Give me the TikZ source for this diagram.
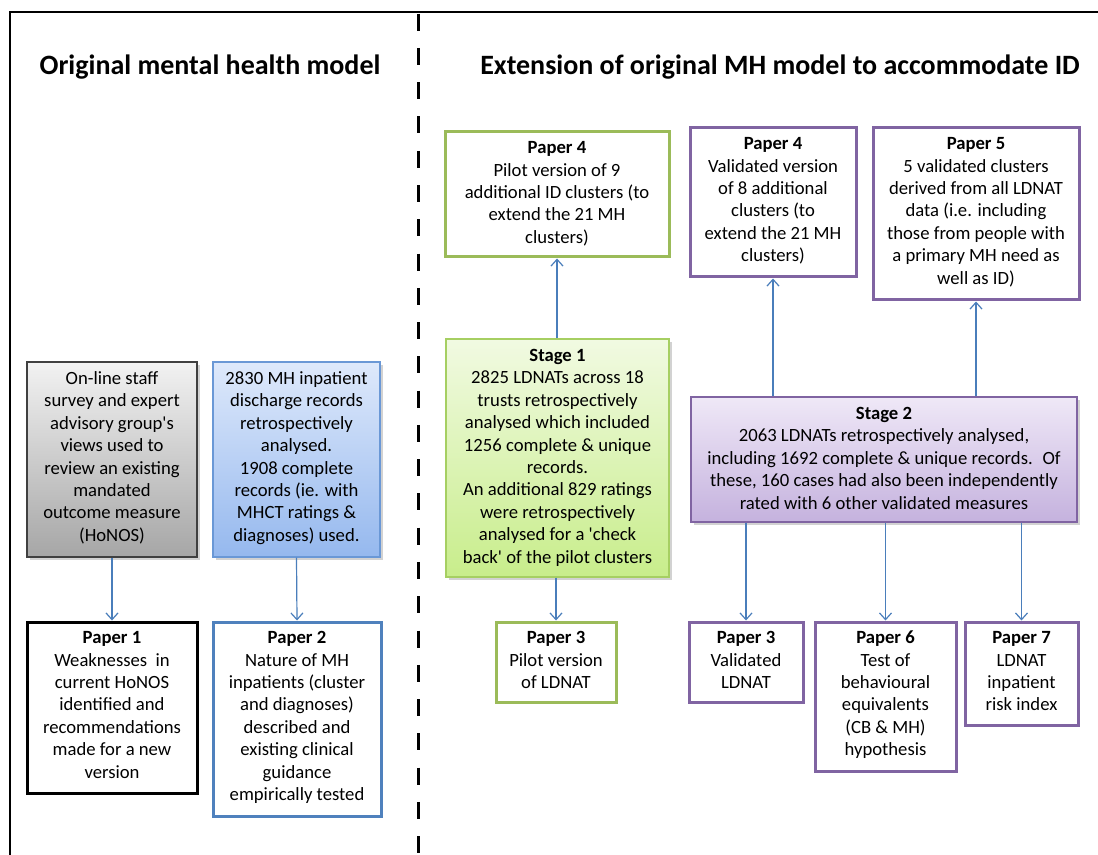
\documentclass[tikz,border=0pt]{standalone}
\usepackage{fontspec}
\setmainfont{Carlito}
\usetikzlibrary{arrows.meta,shadows}
\definecolor{grn}{HTML}{9BBB59}
\definecolor{grnl}{HTML}{A6CF62}
\definecolor{pur}{HTML}{8064A2}
\definecolor{blu}{HTML}{4F81BD}
\definecolor{blul}{HTML}{6A98D6}
\definecolor{arrc}{HTML}{4A7EBB}
\definecolor{gtop}{HTML}{F2F2F2}
\definecolor{gbot}{HTML}{A6A6A6}
\definecolor{btop}{HTML}{DEE9FB}
\definecolor{bbot}{HTML}{95B8EE}
\definecolor{stop}{HTML}{F1FAE2}
\definecolor{sbot}{HTML}{C8ED8B}
\definecolor{ptop}{HTML}{EFE8F7}
\definecolor{pbot}{HTML}{C5B2DE}
\begin{document}
\begin{tikzpicture}[x=0.75pt,y=-0.75pt,
 box/.style={rectangle, inner sep=0pt, line width=2.25pt},
 gbox/.style={rectangle, inner sep=0pt, line width=1.1pt, drop shadow={shadow xshift=2pt, shadow yshift=-2pt, opacity=0.35}},
 txt/.style={anchor=north, inner sep=0pt, align=center, font=\fontsize{14}{16.8}\selectfont},
 arr/.style={draw=arrc, line width=0.9pt, -{Straight Barb[length=5pt,width=9pt]}},
 ttl/.style={anchor=base, inner sep=0pt, font=\fontsize{21}{25}\selectfont\bfseries}]
\useasboundingbox (0,0) rectangle (1098,855);
\fill[white] (0,0) rectangle (1098,855);

% frame and divider
\draw[line width=1.5pt] (10,855) -- (10,12) -- (1098,12);
\draw[line width=2.25pt, dash pattern=on 12.75pt off 12.95pt] (418,13.7) -- (418,855);

% titles
\node[ttl] (tl) at (210,75) {Original mental health model};
\node[ttl] (tr) at (780,75) {Extension of original MH model to accommodate ID};

% left side
\node[gbox, draw=black!75, top color=gtop, bottom color=gbot, minimum width=127.5pt, minimum height=146.25pt] (grey) at (112,459.5) {};
\node[txt] (greyt) at ([yshift=-6.25pt]grey.north) {\rule{0pt}{11pt}On-line staff\\survey and expert\\advisory group\textquotesingle s\\views used to\\review an existing\\mandated\\outcome measure\\(HoNOS)};

\node[gbox, draw=blul, top color=btop, bottom color=bbot, minimum width=125.25pt, minimum height=146.25pt] (blue) at (296.5,459.5) {};
\node[txt] (bluet) at ([yshift=-6.25pt]blue.north) {\rule{0pt}{11pt}2830 MH inpatient\\discharge records\\retrospectively\\analysed.\\1908 complete\\records (ie. with\\MHCT ratings \&\\diagnoses) used.};

\node[box, draw=black, minimum width=127.5pt, minimum height=128.25pt] (p1) at (112,707.5) {};
\node[txt] (p1t) at ([yshift=-6.25pt]p1.north) {\rule{0pt}{11pt}\textbf{Paper 1}\\Weaknesses~ in\\current HoNOS\\identified and\\recommendations\\made for a new\\version};

\node[box, draw=blu, minimum width=126pt, minimum height=145.5pt] (p2) at (297,719) {};
\node[txt] (p2t) at ([yshift=-6.25pt]p2.north) {\rule{0pt}{11pt}\textbf{Paper 2}\\Nature of MH\\inpatients (cluster\\and diagnoses)\\described and\\existing clinical\\guidance\\empirically tested};

\draw[arr] (grey.south) -- (p1.north);
\draw[arr] (blue.south) -- (p2.north);

% stage 1 (green)
\node[box, draw=grn, minimum width=168pt, minimum height=93.75pt] (p4g) at (557,194.5) {};
\node[txt] (p4gt) at ([yshift=-6.25pt]p4g.north) {\rule{0pt}{11pt}\textbf{Paper 4}\\Pilot version of 9\\additional ID clusters (to\\extend the 21 MH\\clusters)};

\node[gbox, draw=grnl, top color=stop, bottom color=sbot, minimum width=167.25pt, minimum height=178.5pt] (s1) at (557.5,458) {};
\node[txt] (s1t) at ([yshift=-6.25pt]s1.north) {\rule{0pt}{11pt}\textbf{Stage 1}\\2825 LDNATs across 18\\trusts retrospectively\\analysed which included\\1256 complete \& unique\\records.\\An additional 829 ratings\\were retrospectively\\analysed for a \textquotesingle check\\back\textquotesingle\ of the pilot clusters};

\node[box, draw=grn, minimum width=90pt, minimum height=60pt] (p3g) at (556,662) {};
\node[txt] (p3gt) at ([yshift=-6.25pt]p3g.north) {\rule{0pt}{11pt}\textbf{Paper 3}\\Pilot version\\of LDNAT};

\draw[arr] (s1.north -| p4g.south) -- (p4g.south);
\draw[arr] (s1.south -| p3g.north) -- (p3g.north);

% stage 2 (purple)
\node[box, draw=pur, minimum width=124.5pt, minimum height=111.75pt] (p4p) at (773,202.5) {};
\node[txt] (p4pt) at ([yshift=-6.25pt]p4p.north) {\rule{0pt}{11pt}\textbf{Paper 4}\\Validated version\\of 8 additional\\clusters (to\\extend the 21 MH\\clusters)};

\node[box, draw=pur, minimum width=154.5pt, minimum height=129pt] (p5) at (976,214) {};
\node[txt] (p5t) at ([yshift=-6.25pt]p5.north) {\rule{0pt}{11pt}\textbf{Paper 5}\\5 validated clusters\\derived from all LDNAT\\data (i.e. including\\those from people with\\a primary MH need as\\well as ID)};

\node[gbox, draw=pur, top color=ptop, bottom color=pbot, minimum width=289.5pt, minimum height=93.75pt] (s2) at (884,459.5) {};
\node[txt] (s2t) at ([yshift=-6.25pt]s2.north) {\rule{0pt}{11pt}\textbf{Stage 2}\\2063 LDNATs retrospectively analysed,\\including 1692 complete \& unique records.~ Of\\these, 160 cases had also been independently\\rated with 6 other validated measures};

\node[box, draw=pur, minimum width=85.5pt, minimum height=60pt] (p3p) at (746,662) {};
\node[txt] (p3pt) at ([yshift=-6.25pt]p3p.north) {\rule{0pt}{11pt}\textbf{Paper 3}\\Validated\\LDNAT};

\node[box, draw=pur, minimum width=105.75pt, minimum height=111.75pt] (p6) at (885.5,696.5) {};
\node[txt] (p6t) at ([yshift=-6.25pt]p6.north) {\rule{0pt}{11pt}\textbf{Paper 6}\\Test of\\behavioural\\equivalents\\(CB \& MH)\\hypothesis};

\node[box, draw=pur, minimum width=84.75pt, minimum height=77.25pt] (p7) at (1021.5,673.5) {};
\node[txt] (p7t) at ([yshift=-6.25pt]p7.north) {\rule{0pt}{11pt}\textbf{Paper 7}\\LDNAT\\inpatient\\risk index};

\draw[arr] (s2.north -| p4p.south) -- (p4p.south);
\draw[arr] (s2.north -| p5.south) -- (p5.south);
\draw[arr] (s2.south -| p3p.north) -- (p3p.north);
\draw[arr] (s2.south -| p6.north) -- (p6.north);
\draw[arr] (s2.south -| p7.north) -- (p7.north);
\end{tikzpicture}
\end{document}
